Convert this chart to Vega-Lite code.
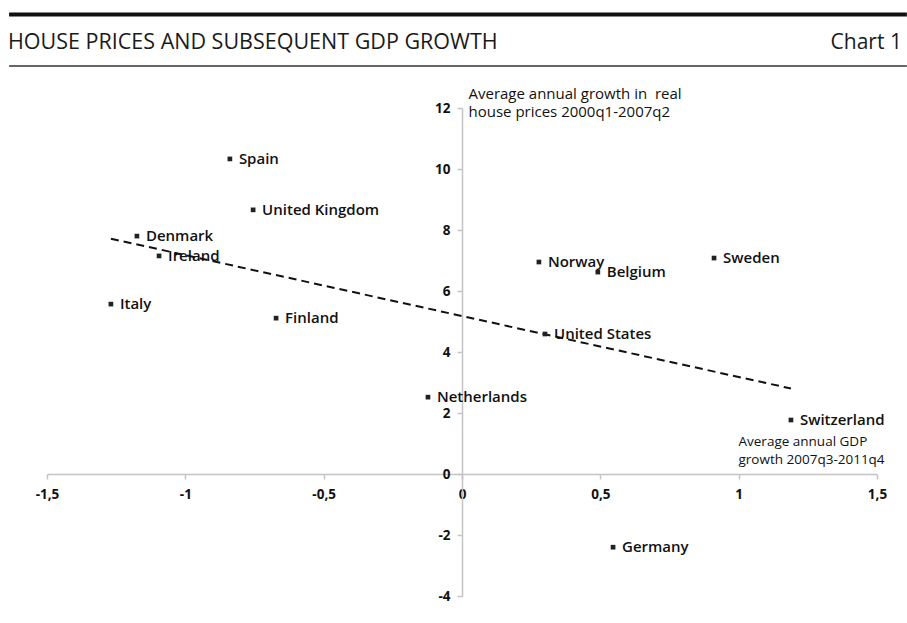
{
  "$schema": "https://vega.github.io/schema/vega-lite/v6.json",
  "autosize": {"type": "none"},
  "padding": {"left": 47, "top": 108, "right": 30, "bottom": 27},
  "width": 830,
  "height": 488,
  "background": "white",
  "title": {
    "text": "HOUSE PRICES AND SUBSEQUENT GDP GROWTH",
    "anchor": "start",
    "frame": "group",
    "font": "Open Sans",
    "fontSize": 21.5,
    "fontWeight": "normal",
    "color": "#1a1a1a",
    "dx": -39,
    "dy": 51,
    "offset": 10
  },
  "config": {
    "view": {"stroke": null},
    "axis": {
      "grid": false,
      "domainColor": "#c4c4c4",
      "domainWidth": 1.5,
      "tickColor": "#c4c4c4",
      "tickWidth": 1.5,
      "tickSize": 5,
      "labelFont": "Open Sans",
      "labelFontSize": 13.5,
      "labelFontWeight": 700,
      "labelColor": "#111",
      "labelFlush": false,
      "labelOverlap": false,
      "titleFont": "Open Sans",
      "titleFontWeight": 500,
      "titleColor": "#111"
    }
  },
  "data": {
    "values": [
      {"country": "Spain", "gdp": -0.839, "house": 10.33},
      {"country": "United Kingdom", "gdp": -0.755, "house": 8.66},
      {"country": "Denmark", "gdp": -1.175, "house": 7.80},
      {"country": "Ireland", "gdp": -1.095, "house": 7.15},
      {"country": "Italy", "gdp": -1.269, "house": 5.57},
      {"country": "Finland", "gdp": -0.672, "house": 5.11},
      {"country": "Norway", "gdp": 0.278, "house": 6.95},
      {"country": "Belgium", "gdp": 0.491, "house": 6.62},
      {"country": "Sweden", "gdp": 0.911, "house": 7.08},
      {"country": "United States", "gdp": 0.300, "house": 4.59},
      {"country": "Netherlands", "gdp": -0.123, "house": 2.52},
      {"country": "Switzerland", "gdp": 1.189, "house": 1.77},
      {"country": "Germany", "gdp": 0.546, "house": -2.40}
    ]
  },
  "layer": [
    {
      "data": {"values": [{}]},
      "mark": {"type": "rule", "color": "#111", "strokeWidth": 4},
      "encoding": {
        "x": {"datum": -1.637, "type": "quantitative"},
        "x2": {"datum": 1.608},
        "y": {"datum": 15.066, "type": "quantitative"}
      }
    },
    {
      "data": {"values": [{}]},
      "mark": {"type": "rule", "color": "#333", "strokeWidth": 1.5},
      "encoding": {
        "x": {"datum": -1.637, "type": "quantitative"},
        "x2": {"datum": 1.608},
        "y": {"datum": 13.377, "type": "quantitative"}
      }
    },
    {
      "data": {"values": [{}]},
      "mark": {"type": "text", "text": "Chart 1", "align": "right", "baseline": "alphabetic", "font": "Open Sans", "fontSize": 21, "fontWeight": 400, "color": "#1a1a1a"},
      "encoding": {
        "x": {"datum": 1.59, "type": "quantitative"},
        "y": {"datum": 13.934, "type": "quantitative"}
      }
    },
    {
      "transform": [{"regression": "house", "on": "gdp"}],
      "mark": {"type": "line", "color": "#111", "strokeWidth": 2, "strokeDash": [8, 5]},
      "encoding": {
        "x": {"field": "gdp", "type": "quantitative"},
        "y": {"field": "house", "type": "quantitative"}
      }
    },
    {
      "mark": {"type": "point", "shape": "square", "filled": true, "size": 22, "color": "#222", "opacity": 1},
      "encoding": {
        "x": {
          "field": "gdp",
          "type": "quantitative",
          "scale": {"domain": [-1.5, 1.5], "nice": false, "zero": false},
          "axis": {
            "orient": "bottom",
            "offset": -122,
            "values": [-1.5, -1, -0.5, 0, 0.5, 1, 1.5],
            "labelExpr": "replace(toString(datum.value), '.', ',')",
            "labelPadding": 8,
            "title": ["Average annual GDP", "growth 2007q3-2011q4"],
            "titleFontSize": 13.5,
            "titleAngle": 0,
            "titleAlign": "left",
            "titleBaseline": "alphabetic",
            "titleX": 691,
            "titleY": -29,
            "titleLineHeight": 18
          }
        },
        "y": {
          "field": "house",
          "type": "quantitative",
          "scale": {"domain": [-4, 12], "nice": false, "zero": false},
          "axis": {
            "orient": "left",
            "offset": -415,
            "values": [-4, -2, 0, 2, 4, 6, 8, 10, 12],
            "labelExpr": "toString(datum.value)",
            "labelPadding": 7,
            "title": ["Average annual growth in\u00a0 real", "house prices 2000q1-2007q2"],
            "titleFontSize": 15,
            "titleAngle": 0,
            "titleAlign": "left",
            "titleBaseline": "alphabetic",
            "titleX": 6,
            "titleY": -10,
            "titleLineHeight": 18
          }
        }
      }
    },
    {
      "mark": {"type": "text", "align": "left", "baseline": "middle", "dx": 9, "font": "Open Sans", "fontSize": 15, "fontWeight": 600, "color": "#111"},
      "encoding": {
        "x": {"field": "gdp", "type": "quantitative"},
        "y": {"field": "house", "type": "quantitative"},
        "text": {"field": "country"}
      }
    }
  ]
}
